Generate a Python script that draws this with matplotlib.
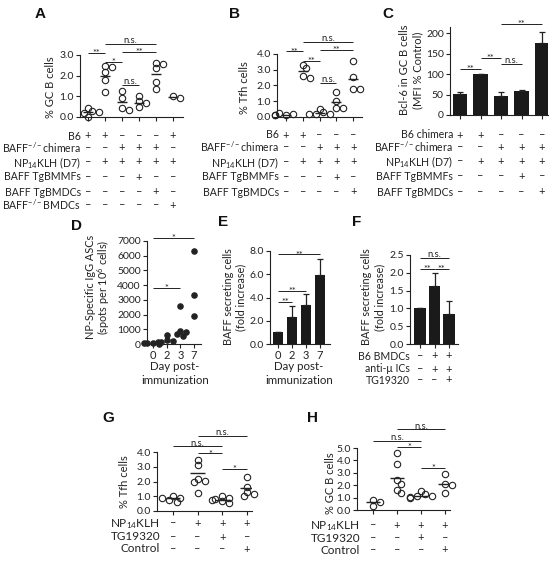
import matplotlib
matplotlib.use('Agg')
import matplotlib.pyplot as plt
import matplotlib.transforms as mtrans
import numpy as np

# ---------------- data ----------------
A_values = [[0.43, 0.27, 0.19, 0.0, 0.22], [2.45, 2.4, 2.2, 1.8, 1.2], [1.24, 0.9, 0.43, 0.32],
            [1.0, 0.75, 0.67, 0.48], [2.6, 2.57, 2.36, 1.67, 1.35], [1.03, 0.9]]
A_means = [0.25, 2.0, 0.72, 0.7, 2.09, 0.95]
A_sig = [(0, 1, 3.1, '**'), (1, 2, 2.68, '*'), (1, 4, 3.55, 'n.s.'), (2, 4, 3.15, '**'), (2, 3, 1.56, 'n.s.')]
A_rows = ['B6', 'BAFF$^{-/-}$chimera', 'NP$_{14}$KLH (D7)', 'BAFF TgBMMFs', 'BAFF TgBMDCs', 'BAFF$^{-/-}$BMDCs']
A_signs = ['++---+', '--+++-', '-+++++', '---+--', '----+-', '-----+']

B_values = [[0.15, 0.2, 0.28, 0.1, 0.15], [3.3, 3.1, 2.6, 2.5], [0.53, 0.32, 0.21, 0.17, 0.17],
            [1.6, 1.0, 0.55, 0.55], [3.53, 2.57, 1.75, 1.75]]
B_means = [0.15, 2.89, 0.26, 0.96, 2.42]
B_sig = [(0, 1, 4.16, '**'), (1, 2, 3.57, '**'), (1, 4, 4.75, 'n.s.'), (2, 4, 4.28, '**'), (2, 3, 2.14, 'n.s.')]
B_rows = ['B6', 'BAFF$^{-/-}$chimera', 'NP$_{14}$KLH (D7)', 'BAFF TgBMMFs', 'BAFF TgBMDCs']
B_signs = ['++---', '--+++', '-++++', '---+-', '----+']

C_values = [52, 100, 46, 59, 177]
C_errors = [5, 0.8, 10, 1.5, 27]
C_sig = [(0, 1, 112, '**'), (1, 2, 139, '**'), (2, 3, 125, 'n.s.'), (2, 4, 223, '**')]
C_rows = ['B6 chimera', 'BAFF$^{-/-}$chimera', 'NP$_{14}$KLH (D7)', 'BAFF TgBMMFs', 'BAFF TgBMDCs']
C_signs = ['++---', '--+++', '-++++', '---+-', '----+']

D_days = ['0', '2', '3', '7']
D_values = [[60, 20, 90, 40], [580, 280, 200, 150, 120], [2580, 880, 800, 700, 560], [6300, 3300, 1900]]
D_sig = [(0, 3, 7200, '*'), (0, 2, 3800, '*')]

E_days = ['0', '2', '3', '7']
E_values = [1.0, 2.3, 3.35, 5.9]
E_errors = [0.0, 1.0, 0.95, 1.4]
E_sig = [(0, 1, 3.6, '**'), (0, 2, 4.6, '**'), (0, 3, 7.7, '**')]

F_values = [1.0, 1.62, 0.83]
F_errors = [0.0, 0.38, 0.37]
F_sig = [(0, 1, 2.12, '**'), (1, 2, 2.12, '**'), (0, 2, 2.42, 'n.s.')]
F_rows = ['B6 BMDCs', 'anti-\u03bc ICs', 'TG19320']
F_signs = ['-++', '-++', '--+']

G_values = [[1.0, 0.85, 0.75, 0.6, 0.9], [3.45, 3.1, 2.2, 2.05, 1.95, 1.25],
            [1.0, 0.9, 0.83, 0.72, 0.65, 0.55], [2.3, 1.6, 1.28, 1.17, 1.05]]
G_means = [0.85, 2.56, 0.76, 1.57]
G_sig = [(0, 2, 4.38, 'n.s.'), (1, 2, 3.9, '*'), (1, 3, 5.1, 'n.s.'), (2, 3, 2.85, '*')]

H_values = [[0.8, 0.68, 0.35], [4.6, 3.7, 2.45, 2.1, 1.65, 1.4],
            [1.55, 1.3, 1.15, 1.1, 1.0, 1.08], [2.9, 2.1, 2.0, 1.35]]
H_means = [0.68, 2.57, 1.13, 2.08]
H_sig = [(0, 2, 5.54, 'n.s.'), (1, 2, 5.08, '*'), (1, 3, 6.5, 'n.s.'), (2, 3, 3.38, '*')]

GH_rows = ['NP$_{14}$KLH', 'TG19320', 'Control']
GH_signs = ['-+++', '--+-', '---+']

# ---------------- figure ----------------
W, H = 549, 561
plt.rcParams['font.family'] = ['Lato', 'DejaVu Sans']
plt.rcParams['mathtext.default'] = 'regular'
INK = '#222222'
fig = plt.figure(figsize=(W / 100, H / 100), dpi=100)


def fx(x):
    return x / W


def fy(y):
    return 1 - y / H


def frame(x_spine, x_right, first, step, ytop, ybot, ylo, yhi):
    ax = fig.add_axes([fx(x_spine), fy(ybot), (x_right - x_spine) / W, (ybot - ytop) / H])
    ax.set_xlim((x_spine - first) / step, (x_right - first) / step)
    ax.set_ylim(ylo, yhi)
    ax.patch.set_alpha(0)
    for s in ('top', 'right'):
        ax.spines[s].set_visible(False)
    for s in ('left', 'bottom'):
        ax.spines[s].set_linewidth(0.8)
        ax.spines[s].set_color(INK)
    ax.tick_params(direction='out', length=3, width=0.8, color=INK, labelsize=7.5,
                   pad=1.5, labelcolor=INK)
    return ax


def swarm_x(ax, xc, vals, d_px):
    T = ax.transData
    placed, out = [], []
    for v in vals:
        x0, y0 = T.transform((xc, v))
        xp = x0
        for k in (0, 1, -1, 2, -2, 3, -3):
            xp = x0 + k * 0.55 * d_px
            if all((xp - a) ** 2 + (y0 - b) ** 2 >= (0.7 * d_px) ** 2 for a, b in placed):
                break
        placed.append((xp, y0))
        out.append(T.inverted().transform((xp, y0))[0])
    return out


def dots(ax, groups, means=None, filled=False, ms=4.6):
    for i, vals in enumerate(groups):
        xs = swarm_x(ax, i, vals, ms * 1.389)
        ax.plot(xs, vals, 'o', ms=ms, mfc=INK if filled else 'none', mec=INK, mew=0.8,
                ls='none', clip_on=False, zorder=3)
        if means is not None:
            ax.plot([i - 0.3, i + 0.3], [means[i]] * 2, color=INK, lw=1.0, zorder=2,
                    solid_capstyle='butt')
    ax.set_xticks(range(len(groups)))


def bars(ax, vals, errs, width):
    x = np.arange(len(vals))
    ax.bar(x, vals, width=width, color='#1a1a1a', zorder=2)
    ax.errorbar(x, vals, yerr=[np.zeros(len(vals)), errs], fmt='none', ecolor=INK,
                elinewidth=0.9, capsize=2.5, capthick=0.9, clip_on=False, zorder=3)
    ax.set_xticks(x)


def sig(ax, sigs, fs=6.8):
    for a, b, y, txt in sigs:
        ax.plot([a, b], [y, y], color=INK, lw=0.7, clip_on=False, solid_capstyle='butt')
        off = -2.2 if '*' in txt else 0.6
        ax.annotate(txt, xy=((a + b) / 2, y), xytext=(0, off), textcoords='offset points',
                    ha='center', va='baseline', fontsize=fs, color=INK, annotation_clip=False)


def table(ax, labels, signs, ys, xr, fs=7.6, sfs=8):
    tr = mtrans.blended_transform_factory(ax.transData, fig.transFigure)
    for lab, sg, y in zip(labels, signs, ys):
        fig.text(fx(xr), fy(y), lab, ha='right', va='center_baseline', fontsize=fs, color=INK)
        for j, c in enumerate(sg):
            ax.text(j, fy(y), '+' if c == '+' else '\u2013', transform=tr, ha='center',
                    va='center_baseline', fontsize=sfs, color=INK, clip_on=False)


def ylab(x, y, txt, fs=8):
    fig.text(fx(x), fy(y), txt, rotation=90, ha='center', va='center', fontsize=fs, color=INK)


def letter(x, y, txt):
    fig.text(fx(x), fy(y), txt, ha='center', va='center', fontsize=11, fontweight='bold',
             family=['Liberation Sans', 'DejaVu Sans'], color='#111111')


# ---- A ----
axA = frame(80, 183, 88, 17, 55, 117, 0, 3.0)
dots(axA, A_values, A_means)
axA.set_xticklabels([])
axA.set_yticks([0, 1, 2, 3])
axA.set_yticklabels(['0.0', '1.0', '2.0', '3.0'])
sig(axA, A_sig)
table(axA, A_rows, A_signs, [135, 147, 161, 176, 191, 204], 81)
ylab(50, 87, '% GC B cells')
letter(40, 14, 'A')

# ---- B ----
axB = frame(277, 362, 286, 16.8, 54, 117, 0, 4.0)
dots(axB, B_values, B_means)
axB.set_xticklabels([])
axB.set_yticks([0, 1, 2, 3, 4])
axB.set_yticklabels(['0.0', '1.0', '2.0', '3.0', '4.0'])
sig(axB, B_sig)
table(axB, B_rows, B_signs, [134, 146, 161, 176, 191], 279)
ylab(244, 88, '% Tfh cells')
letter(235, 14, 'B')

# ---- C ----
axC = frame(450, 548, 460, 20.5, 27, 115, 0, 215)
bars(axC, C_values, C_errors, 0.72)
axC.set_xticklabels([])
axC.set_yticks([0, 50, 100, 150, 200])
axC.set_yticklabels(['0', '50', '100', '150', '200'])
sig(axC, C_sig)
table(axC, C_rows, C_signs, [134, 146, 160, 175, 191], 453)
ylab(404, 70, 'Bcl-6 in GC B cells')
ylab(418, 70, '(MFI % Control)')
letter(388, 14, 'C')

# ---- D ----
axD = frame(147, 201, 153, 13.7, 241, 344, 0, 7000)
dots(axD, D_values, None, filled=True, ms=3.9)
axD.set_xticklabels(D_days, fontsize=8)
axD.set_yticks(range(0, 7001, 1000))
axD.set_yticklabels([str(v) for v in range(0, 7001, 1000)])
sig(axD, D_sig)
ylab(90, 287, 'NP-Specific IgG ASCs', fs=7.8)
ylab(104, 287, '(spots per 10$^6$ cells)', fs=7.8)
fig.text(fx(175), fy(367), 'Day post-', ha='center', va='center', fontsize=8.3, color=INK)
fig.text(fx(175), fy(380), 'immunization', ha='center', va='center', fontsize=8.3, color=INK)
letter(77, 226, 'D')

# ---- E ----
axE = frame(270, 330, 278, 14, 251, 344, 0, 8.0)
bars(axE, E_values, E_errors, 0.76)
axE.set_xticklabels(E_days, fontsize=8)
axE.set_yticks([0, 2, 4, 6, 8])
axE.set_yticklabels(['0.0', '2.0', '4.0', '6.0', '8.0'])
sig(axE, E_sig)
ylab(228, 297, 'BAFF secreting cells', fs=7.8)
ylab(241, 297, '(fold increase)', fs=7.8)
fig.text(fx(299), fy(367), 'Day post-', ha='center', va='center', fontsize=8.3, color=INK)
fig.text(fx(299), fy(380), 'immunization', ha='center', va='center', fontsize=8.3, color=INK)
letter(223, 222, 'E')

# ---- F ----
axF = frame(410, 458, 420, 14.5, 255, 344, 0, 2.5)
bars(axF, F_values, F_errors, 0.8)
axF.set_xticklabels([])
axF.set_yticks([0, 0.5, 1.0, 1.5, 2.0, 2.5])
axF.set_yticklabels(['0.0', '0.5', '1.0', '1.5', '2.0', '2.5'])
sig(axF, F_sig)
table(axF, F_rows, F_signs, [355, 368, 379], 410)
ylab(366, 297, 'BAFF secreting cells', fs=7.8)
ylab(380, 297, '(fold increase)', fs=7.8)
letter(357, 222, 'F')

# ---- G ----
axG = frame(157, 252, 173, 24.7, 452, 511, 0, 4.0)
dots(axG, G_values, G_means)
axG.set_xticklabels([])
axG.set_yticks([0, 1, 2, 3, 4])
axG.set_yticklabels(['0.0', '1.0', '2.0', '3.0', '4.0'])
sig(axG, G_sig)
table(axG, GH_rows, GH_signs, [522, 536, 548], 160, fs=8.5, sfs=8)
ylab(125, 482, '% Tfh cells')
letter(108, 418, 'G')

# ---- H ----
axH = frame(357, 450, 373, 24, 448, 510, 0, 5.0)
dots(axH, H_values, H_means)
axH.set_xticklabels([])
axH.set_yticks([0, 1, 2, 3, 4, 5])
axH.set_yticklabels(['0.0', '1.0', '2.0', '3.0', '4.0', '5.0'])
sig(axH, H_sig)
table(axH, GH_rows, GH_signs, [524, 537, 549], 360, fs=8.5, sfs=8)
ylab(330, 483, '% GC B cells')
letter(313, 418, 'H')

fig.savefig('out.png', dpi=100)
